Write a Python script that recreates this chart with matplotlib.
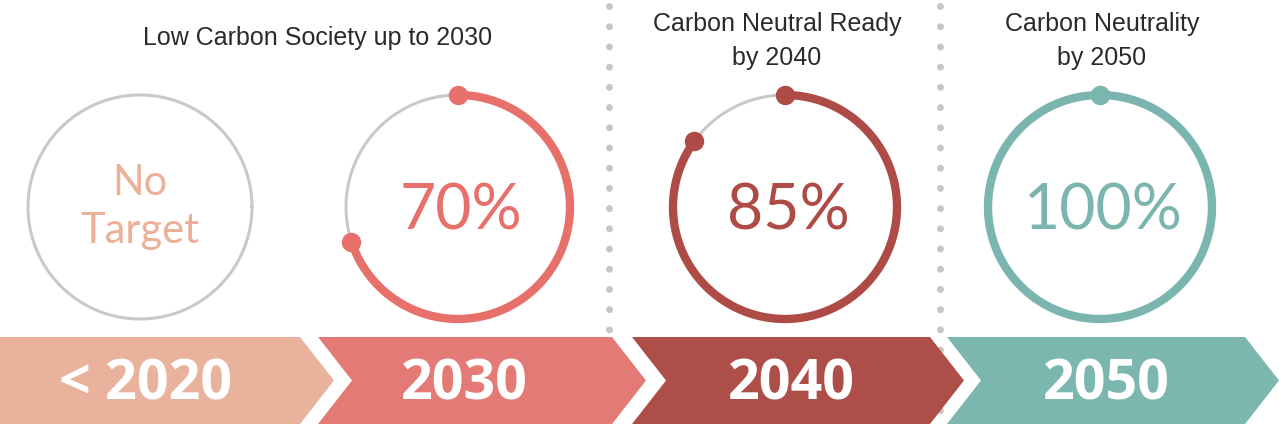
import matplotlib.pyplot as plt
import numpy as np
from matplotlib.patches import Polygon

# data
years = ["< 2020", "2030", "2040", "2050"]
progress = [None, 70, 85, 100]  # percent of circle filled
centre_labels = ["No\nTarget", "70%", "85%", "100%"]
headers = ["Low Carbon Society up to 2030", "Carbon Neutral Ready\nby 2040", "Carbon Neutrality\nby 2050"]

banner_colors = ["#E8B29D", "#E47A75", "#AE4E49", "#7BB6AF"]
ring_colors = ["#C9C9C9", "#E8706B", "#AE4B46", "#7AB6AF"]
label_colors = ["#ECAF97", "#E8706B", "#AE4B46", "#7AB6AF"]
grey = "#C9C9C9"

W, H = 1279, 429
fig = plt.figure(figsize=(W / 100, H / 100), dpi=100)
ax = fig.add_axes([0, 0, 1, 1])
ax.set_xlim(0, W)
ax.set_ylim(H, 0)
ax.axis("off")

cx = [140, 458, 785, 1100]
cy = 207
r = 112

for i, p in enumerate(progress):
    t = np.linspace(0, 2 * np.pi, 400)
    ax.plot(cx[i] + r * np.cos(t), cy - r * np.sin(t), color=grey, lw=2.2, zorder=2)
    if p is not None:
        start = np.pi / 2
        end = start - 2 * np.pi * p / 100
        t = np.linspace(start, end, 400)
        ax.plot(cx[i] + r * np.cos(t), cy - r * np.sin(t), color=ring_colors[i],
                lw=6, solid_capstyle="round", zorder=3)
        ends = [start] if p == 100 else [start, end]
        for a in ends:
            ax.plot(cx[i] + r * np.cos(a), cy - r * np.sin(a), "o", ms=13,
                    color=ring_colors[i], zorder=4)
    if i == 0:
        ax.text(cx[i], cy, centre_labels[i], ha="center", va="center", fontsize=30,
                color=label_colors[i], family="Lato", linespacing=1.3)
    else:
        ax.text(cx[i] + 3, cy + 5, centre_labels[i], ha="center", va="center", fontsize=45,
                color=label_colors[i], family="Lato")

# dotted separators
for x in [609, 940]:
    ax.plot([x, x], [6, 428], color="#C6C6C6", lw=5, linestyle=(0, (0.01, 2.9)),
            dash_capstyle="round", zorder=1)

# headers
head_x = [318, 777, 1102]
for i, h in enumerate(headers):
    y = 38 if i == 0 else 41
    ax.text(head_x[i], y, h, ha="center", va="center", fontsize=18, color="#2A2A2A",
            family="Liberation Sans", linespacing=1.55)

# chevron banner
top, bot = 337, 424
mid = (top + bot) / 2
seg_left = [0, 318, 632, 947]
seg_right = [300, 612, 930, 1245]
depth = 34
for i, yr in enumerate(years):
    xl, xr = seg_left[i], seg_right[i]
    if i == 0:
        pts = [(xl, top), (xr, top), (xr + depth, mid), (xr, bot), (xl, bot)]
    else:
        pts = [(xl, top), (xr, top), (xr + depth, mid), (xr, bot), (xl, bot), (xl + depth, mid)]
    ax.add_patch(Polygon(pts, closed=True, color=banner_colors[i], lw=0, zorder=5))
    ax.text(cx[i] + 6, mid + 5, yr, ha="center", va="center", fontsize=40, color="white",
            family="Open Sans", weight="bold", zorder=6)

fig.savefig("out.png", dpi=100)
